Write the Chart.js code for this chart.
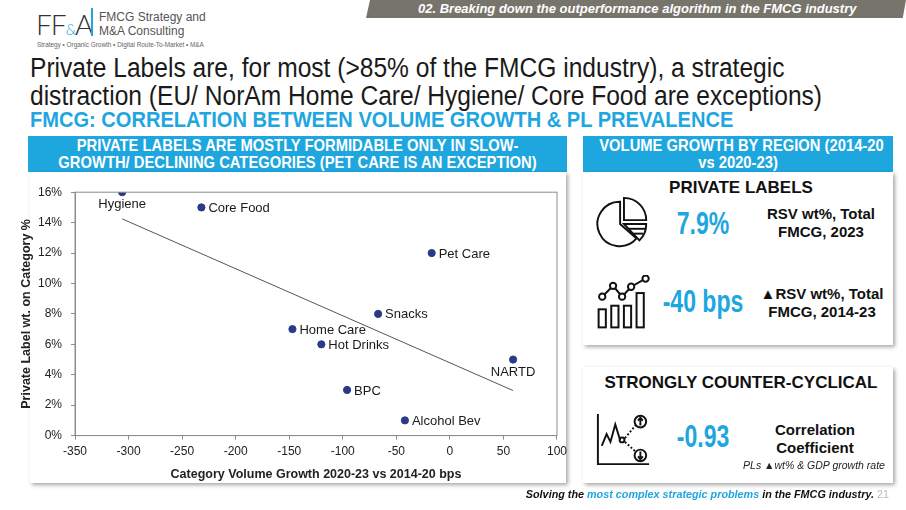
<!DOCTYPE html>
<html>
<head>
<meta charset="utf-8">
<script src="https://cdn.jsdelivr.net/npm/chart.js@4.4.1/dist/chart.umd.min.js"></script>
<style>
  html, body { margin: 0; padding: 0; background: #fff; }
  body { width: 906px; height: 510px; position: relative; overflow: hidden; font-family: "Liberation Sans", Arial, sans-serif; }
  .abs { position: absolute; }
  .banner { left: 366px; top: 0; width: 540px; height: 18px; background: #77756b;
    clip-path: polygon(4px 0, 100% 0, 99.4% 100%, 0 100%); }
  .banner span { position: absolute; left: 52px; top: 1px; color: #fff; font-weight: bold; font-style: italic; font-size: 13px; white-space: nowrap; }
  .title { left: 30px; top: 54px; font-size: 27px; line-height: 28px; color: #1a1a1a; white-space: nowrap;
    transform: scaleX(0.91); transform-origin: left top; }
  .subtitle { left: 30px; top: 107px; font-size: 22px; font-weight: bold; color: #1ea6df; white-space: nowrap;
    transform: scaleX(0.912); transform-origin: left top; }
  .bluebox { background: #1ea6df; }
  .bluebox div { color: #fff; font-weight: bold; text-align: center; font-size: 16.5px; line-height: 17px;
    white-space: nowrap; transform: scaleX(0.895); margin-top: 1px; }
  .panel { background: #fff; box-shadow: 2px 2px 4px rgba(0,0,0,.35); }
  .c { text-align: center; white-space: nowrap; }
  .big { color: #1ea6df; font-weight: bold; font-size: 32px; transform: scaleX(0.72); }
  .lbl { font-weight: bold; font-size: 15px; line-height: 18px; color: #111; }
</style>
</head>
<body>
<!-- logo -->
<div class="abs" style="left:36px;top:7px;font-family:Lato,'Liberation Sans',sans-serif;font-size:28px;color:#333;font-weight:300;letter-spacing:-1px">FF<span style="font-size:15px;color:#1ea6df">&amp;</span>A</div>
<div class="abs" style="left:91px;top:8px;width:1.5px;height:28px;background:#1ea6df"></div>
<div class="abs" style="left:99px;top:10px;font-size:12px;line-height:14px;color:#555">FMCG Strategy and<br>M&amp;A Consulting</div>
<div class="abs" style="left:37px;top:41px;font-size:6.4px;color:#666;white-space:nowrap">Strategy • Organic Growth • Digital Route-To-Market • M&amp;A</div>

<div class="abs banner"><span>02. Breaking down the outperformance algorithm in the FMCG industry</span></div>

<div class="abs title">Private Labels are, for most (&gt;85% of the FMCG industry), a strategic<br>distraction (EU/ NorAm Home Care/ Hygiene/ Core Food are exceptions)</div>
<div class="abs subtitle">FMCG: CORRELATION BETWEEN VOLUME GROWTH &amp; PL PREVALENCE</div>

<!-- left block -->
<div class="abs bluebox" style="left:28px;top:136px;width:539px;height:36px"><div>PRIVATE LABELS ARE MOSTLY FORMIDABLE ONLY IN SLOW-<br>GROWTH/ DECLINING CATEGORIES (PET CARE IS AN EXCEPTION)</div></div>
<div class="abs panel" style="left:30px;top:172px;width:536px;height:311px"></div>
<div class="abs" style="left:14px;top:176px;width:558px;height:310px"><canvas id="plChart"></canvas></div>

<!-- right block -->
<div class="abs bluebox" style="left:583px;top:136px;width:310px;height:36px"><div>VOLUME GROWTH BY REGION (2014-20<br>vs 2020-23)</div></div>
<div class="abs panel" style="left:583px;top:172px;width:310px;height:173px"></div>
<div class="abs panel" style="left:583px;top:367px;width:310px;height:116px"></div>

<div class="abs c" style="left:586px;width:310px;top:178px;font-weight:bold;font-size:17px;color:#111">PRIVATE LABELS</div>
<svg class="abs" style="left:594px;top:194px" width="58" height="58" viewBox="0 0 60 60" fill="none" stroke="#111" stroke-width="2">
  <path d="M27 8 A23 23 0 1 0 44 46 L27 31 Z"/>
  <path d="M31 4 L31 27 L54 27 A23 23 0 0 0 31 4 Z"/>
  <path d="M31 31 L54 31 A23 23 0 0 1 47 48 Z"/>
  <line x1="36" y1="36" x2="53" y2="36"/><line x1="41" y1="41" x2="51" y2="41"/>
</svg>
<div class="abs c big" style="left:653px;width:100px;top:205px">7.9%</div>
<div class="abs c lbl" style="left:755px;width:132px;top:205px">RSV wt%, Total<br>FMCG, 2023</div>

<svg class="abs" style="left:595px;top:275px" width="56" height="56" viewBox="0 0 62 62" fill="none" stroke="#111" stroke-width="2.2">
  <rect x="4" y="38" width="8" height="20"/><rect x="18" y="34" width="8" height="24"/>
  <rect x="32" y="34" width="8" height="24"/><rect x="46" y="20" width="8" height="38"/>
  <polyline points="8,24 20,12 30,24 40,13 56,4" />
  <circle cx="8" cy="24" r="3.5" fill="#fff"/><circle cx="20" cy="12" r="3.5" fill="#fff"/>
  <circle cx="30" cy="24" r="3.5" fill="#fff"/><circle cx="40" cy="13" r="3.5" fill="#fff"/>
  <circle cx="56" cy="4" r="3.5" fill="#fff"/>
</svg>
<div class="abs c big" style="left:643px;width:120px;top:283px">-40 bps</div>
<div class="abs c lbl" style="left:752px;width:140px;top:285px">▲RSV wt%, Total<br>FMCG, 2014-23</div>

<div class="abs c" style="left:586px;width:310px;top:373px;font-weight:bold;font-size:17px;color:#111">STRONGLY COUNTER-CYCLICAL</div>
<svg class="abs" style="left:595px;top:411px" width="56" height="56" viewBox="0 0 58 58" fill="none" stroke="#111" stroke-width="2">
  <polyline points="3,3 3,55 56,55"/>
  <polyline points="7,36 12,24 16,32 21,14 26,30"/>
  <circle cx="28" cy="30" r="2.5"/>
  <line x1="31" y1="28" x2="42" y2="15" stroke-dasharray="2 2"/>
  <line x1="31" y1="32" x2="42" y2="42" stroke-dasharray="2 2"/>
  <circle cx="47" cy="11" r="6"/><path d="M47 15 V8 M44.5 10 L47 7 L49.5 10"/>
  <circle cx="47" cy="46" r="6"/><path d="M47 42 V49 M44.5 47 L47 50 L49.5 47"/>
</svg>
<div class="abs c big" style="left:653px;width:100px;top:418px">-0.93</div>
<div class="abs c lbl" style="left:750px;width:130px;top:421px">Correlation<br>Coefficient</div>
<div class="abs c" style="left:740px;width:148px;top:459px;font-style:italic;font-size:10.5px;color:#222">PLs ▲wt% &amp; GDP growth rate</div>

<div class="abs" style="right:17px;top:488px;font-weight:bold;font-style:italic;font-size:10.8px;color:#111;white-space:nowrap">Solving the <span style="color:#1ea6df">most complex strategic problems</span> in the FMCG industry. <span style="color:#bbb;font-weight:normal;font-style:normal">21</span></div>

<script>
// Category volume growth (bps) vs private label share (%)
const categories = ['Hygiene', 'Core Food', 'Pet Care', 'Snacks', 'Home Care', 'Hot Drinks', 'NARTD', 'BPC', 'Alcohol Bev'];
const volumeGrowth = [-306, -232, -17, -67, -147, -120, 59, -96, -42];
const plShare = [16, 15, 12, 8, 7, 6, 5, 3, 1];
const xTicks = [-350, -300, -250, -200, -150, -100, -50, 0, 50, 100];
const yTicks = [0, 2, 4, 6, 8, 10, 12, 14, 16];
const yTitle = 'Private Label wt. on Category %';

// least squares trend line over the data range
const n = volumeGrowth.length;
const mx = volumeGrowth.reduce((a, b) => a + b, 0) / n;
const my = plShare.reduce((a, b) => a + b, 0) / n;
let sxy = 0, sxx = 0;
for (let i = 0; i < n; i++) {
    sxy += (volumeGrowth[i] - mx) * (plShare[i] - my);
    sxx += (volumeGrowth[i] - mx) ** 2;
}
const slope = sxy / sxx;
const xMin = Math.min(...volumeGrowth), xMax = Math.max(...volumeGrowth);
const trend = [xMin, xMax].map(x => ({ x: x, y: my + slope * (x - mx) }));

const points = volumeGrowth.map((x, i) => ({ x: x, y: plShare[i] }));
const below = ['Hygiene', 'NARTD'];

// frame around plot, point labels, rotated y title
const extras = {
    id: 'extras',
    afterDatasetsDraw(chart) {
        const c = chart.ctx, a = chart.chartArea;
        c.save();
        c.strokeStyle = '#8c8c8c';
        c.lineWidth = 1;
        c.strokeRect(a.left, a.top, a.right - a.left, a.bottom - a.top);
        c.font = '13px "Liberation Sans", Arial, sans-serif';
        c.fillStyle = '#1a1a1a';
        const xs = chart.scales.x, ys = chart.scales.y;
        categories.forEach((name, i) => {
            const px = xs.getPixelForValue(volumeGrowth[i]);
            const py = ys.getPixelForValue(plShare[i]);
            if (below.includes(name)) {
                c.textAlign = 'center'; c.textBaseline = 'top';
                c.fillText(name, px, py + 6);
            } else {
                c.textAlign = 'left'; c.textBaseline = 'middle';
                c.fillText(name, px + 7, py + 1);
            }
        });
        c.translate(a.left - 48, (a.top + a.bottom) / 2);
        c.rotate(-Math.PI / 2);
        c.font = 'bold 12.5px "Liberation Sans", Arial, sans-serif';
        c.fillStyle = '#222';
        c.textAlign = 'center'; c.textBaseline = 'middle';
        c.fillText(yTitle, 0, 0);
        c.restore();
    }
};

const ctx = document.getElementById('plChart').getContext('2d');
new Chart(ctx, {
    type: 'scatter',
    data: {
        datasets: [
            {
                label: 'Categories',
                data: points,
                backgroundColor: '#2b3a87',
                borderColor: '#2b3a87',
                pointRadius: 3.6
            },
            {
                type: 'line',
                label: 'Trend',
                data: trend,
                borderColor: '#555',
                borderWidth: 1,
                pointRadius: 0,
                fill: false
            }
        ]
    },
    options: {
        responsive: true,
        maintainAspectRatio: false,
        animation: false,
        layout: { padding: { top: 13, right: 2, left: 15, bottom: 0 } },
        plugins: { legend: { display: false }, tooltip: { enabled: false } },
        scales: {
            x: {
                type: 'linear',
                min: xTicks[0],
                max: xTicks[xTicks.length - 1],
                afterBuildTicks: s => { s.ticks = xTicks.map(v => ({ value: v })); },
                grid: { color: 'transparent', tickColor: '#8c8c8c', tickLength: 4 },
                border: { color: '#8c8c8c' },
                ticks: { color: '#222', font: { size: 12, family: '"Liberation Sans", Arial' }, maxRotation: 0, padding: 5 },
                title: { display: true, text: 'Category Volume Growth 2020-23 vs 2014-20 bps', color: '#222',
                         font: { size: 12.5, weight: 'bold', family: '"Liberation Sans", Arial' }, padding: { top: 3 } }
            },
            y: {
                min: yTicks[0],
                max: yTicks[yTicks.length - 1],
                afterBuildTicks: s => { s.ticks = yTicks.map(v => ({ value: v })); },
                grid: { color: 'transparent', tickColor: '#8c8c8c', tickLength: 4 },
                border: { color: '#8c8c8c' },
                ticks: { color: '#222', font: { size: 12, family: '"Liberation Sans", Arial' }, padding: 9, callback: v => v + '%' },
                title: { display: false }
            }
        }
    },
    plugins: [extras]
});
</script>
</body>
</html>
